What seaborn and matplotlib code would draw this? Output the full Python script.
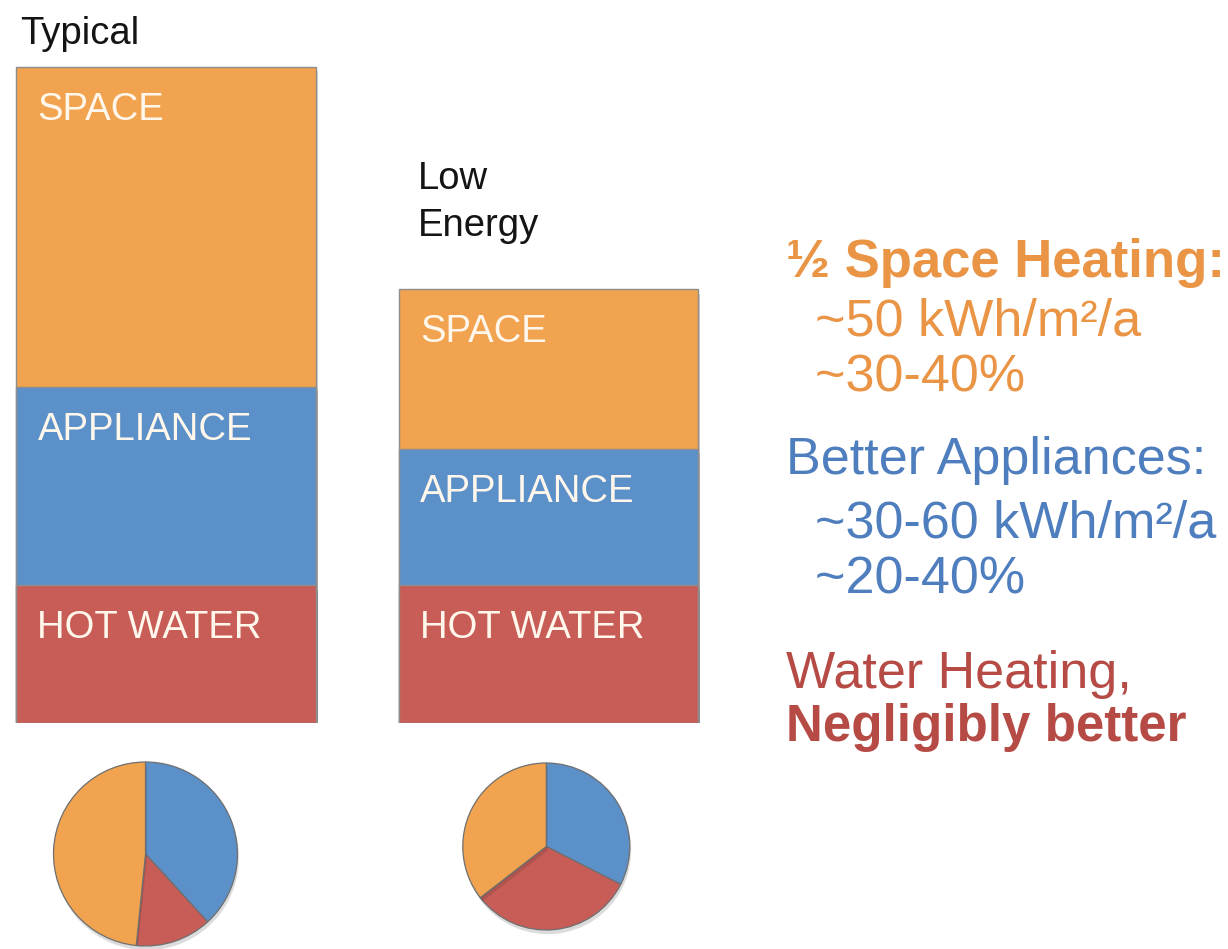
import matplotlib
matplotlib.use("Agg")
import matplotlib.pyplot as plt
import matplotlib.patheffects as pe
import pandas as pd
import seaborn as sns

# Annual energy use by end use (kWh/m²/a)
scenarios = ["Typical", "Low Energy"]
end_uses = ["SPACE", "APPLIANCE", "HOT WATER"]
space_heat = [100, 50]
appliances = [62, 42.5]
hot_water = [43, 43]

# Share of each end use shown in the small pies (appliance, hot water, space)
pie_typical = [38.2, 13.4, 48.4]
pie_low = [32.5, 32.0, 35.5]

# Side notes: (text, colour key, weight, size)
notes = [
    ("½ Space Heating:", "space", "bold", 38),
    ("  ~50 kWh/m²/a", "space", "normal", 37.5),
    ("  ~30-40%", "space", "normal", 37.5),
    ("Better Appliances:", "appl", "normal", 37.5),
    ("  ~30-60 kWh/m²/a", "appl", "normal", 37.5),
    ("  ~20-40%", "appl", "normal", 37.5),
    ("Water Heating,", "water", "normal", 37.5),
    ("Negligibly better", "water", "bold", 36.8),
]

ORANGE, BLUE, RED = "#F1A34F", "#5C90C9", "#C85D57"
TXT = {"space": "#EA9446", "appl": "#4F7EBF", "water": "#B64A45"}
LABEL_WHITE = "#FFF7EC"

sns.set_theme(style="white")
plt.rcParams["font.family"] = ["Liberation Sans", "DejaVu Sans"]

W, H = 1228, 949
fig = plt.figure(figsize=(W / 100, H / 100), dpi=100)
fig.patch.set_facecolor("white")


def frac(left, top, width, height):
    return [left / W, 1 - (top + height) / H, width / W, height / H]


# ---- stacked bars -------------------------------------------------------
PX_PER_UNIT = 3.2
PX_PER_CAT = 382.5
BAR_W = 0.782
ax = fig.add_axes(frac(0, 0, 740, 723))

df = pd.DataFrame({"scenario": scenarios, "space": space_heat,
                   "appliance": appliances, "hot_water": hot_water})
df["top_space"] = df["space"] + df["appliance"] + df["hot_water"]
df["top_appl"] = df["appliance"] + df["hot_water"]
df["top_water"] = df["hot_water"]

shadow = [pe.SimplePatchShadow(offset=(1.5, -3), shadow_rgbFace="k", alpha=0.18),
          pe.Normal()]
for col, c in [("top_space", ORANGE), ("top_appl", BLUE), ("top_water", RED)]:
    sns.barplot(data=df, x="scenario", y=col, color=c, saturation=1,
                width=BAR_W, edgecolor="#8e8e8e", linewidth=1.0, ax=ax)
for p in ax.patches:
    p.set_path_effects(shadow)

ax.set_xlim(-166 / PX_PER_CAT, (740 - 166) / PX_PER_CAT)
ax.set_ylim(0, 723 / PX_PER_UNIT)
ax.axis("off")

inset = 21 / PX_PER_CAT
drop = 53 / PX_PER_UNIT
for i in range(len(scenarios)):
    left = i - BAR_W / 2
    tops = [df.loc[i, "top_space"], df.loc[i, "top_appl"], df.loc[i, "top_water"]]
    for name, top in zip(end_uses, tops):
        ax.text(left + inset, top - drop, name, color=LABEL_WHITE,
                fontsize=27.5, va="baseline", ha="left")

# ---- pies ---------------------------------------------------------------
def draw_pie(values, cx, cy, r):
    pad = 1.1
    size = 2 * pad * r
    pax = fig.add_axes(frac(cx - size / 2, cy - size / 2, size, size))
    wedges, _ = pax.pie(values, colors=[BLUE, RED, ORANGE], startangle=90,
                        counterclock=False,
                        wedgeprops=dict(edgecolor="#6f6f6f", linewidth=0.9))
    for w in wedges:
        w.set_path_effects([pe.SimplePatchShadow(offset=(1, -3), shadow_rgbFace="k",
                                                 alpha=0.15), pe.Normal()])
    pax.set_xlim(-pad, pad)
    pax.set_ylim(-pad, pad)
    pax.set_aspect("equal")
    pax.axis("off")


draw_pie(pie_typical, 145.5, 854, 92)
draw_pie(pie_low, 546.3, 846.5, 83.5)

# ---- titles and notes ---------------------------------------------------
tax = fig.add_axes([0, 0, 1, 1])
tax.set_xlim(0, W)
tax.set_ylim(H, 0)
tax.axis("off")
tax.patch.set_alpha(0)

tax.text(20, 44, "Typical", fontsize=27.5, color="#141414", va="baseline")
tax.text(418, 189, "Low", fontsize=27.5, color="#141414", va="baseline")
tax.text(418, 236, "Energy", fontsize=27.5, color="#141414", va="baseline")

note_y = [277, 336, 391, 474, 537, 593, 688, 741]
for (txt, key, weight, size), y in zip(notes, note_y):
    tax.text(786, y, txt, fontsize=size, color=TXT[key], fontweight=weight,
             va="baseline", ha="left")

fig.savefig("out.png", dpi=100, facecolor="white")
